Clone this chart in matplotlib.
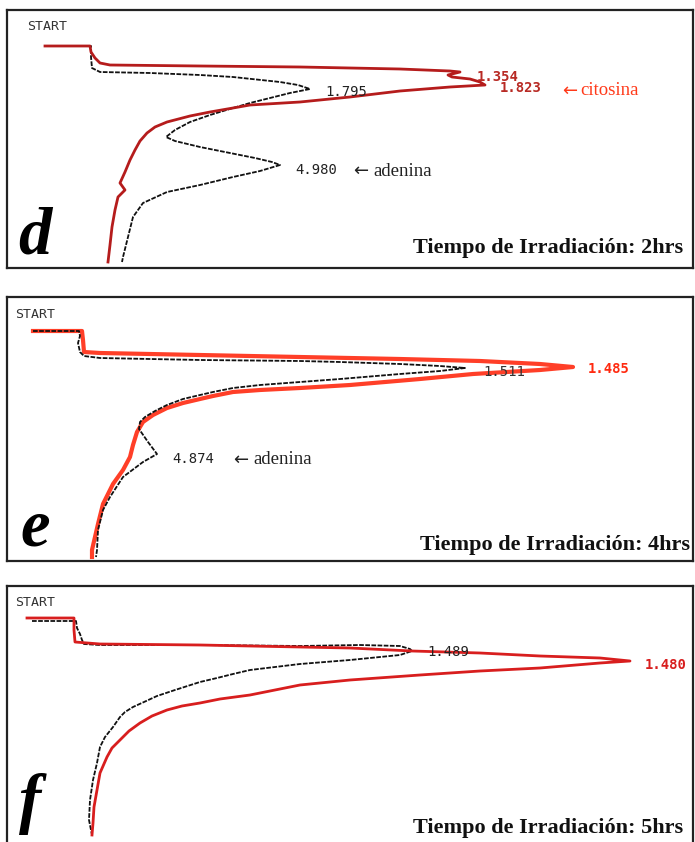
import matplotlib
matplotlib.use("Agg")
import matplotlib.pyplot as plt

# ---------------- data (response, time) ----------------
# Panel d : 2 hrs
d_black_resp = [38, 84, 84, 85, 93, 143, 193, 226, 273, 291, 303, 283, 263, 243, 226, 203, 183, 168, 159,
                168, 193, 223, 248, 265, 273, 253, 226, 193, 160, 136, 126, 121, 116, 115]
d_black_time = [36, 36, 47, 58, 62, 63, 65, 67, 72, 75, 79, 83, 88, 93, 98, 105, 112, 120, 127,
                131, 137, 143, 148, 152, 155, 161, 167, 175, 182, 193, 207, 227, 247, 252]
d_red_resp = [38, 83, 84, 88, 93, 103, 193, 293, 393, 443, 453, 441, 445, 463, 473, 478, 443, 393, 343,
              293, 243, 226, 203, 183, 160, 148, 140, 133, 128, 123, 118, 113, 118, 111, 108, 105, 103, 101]
d_red_time = [36, 36, 42, 48, 53, 55, 56, 57, 59, 61, 62, 65, 67, 69, 72, 75, 77, 81, 87,
              92, 95, 98, 102, 106, 112, 117, 123, 131, 140, 150, 162, 173, 180, 187, 200, 217, 235, 252]

# Panel e : 4 hrs
e_black_resp = [26, 72, 73, 71, 73, 77, 93, 193, 293, 333, 393, 433, 458, 433, 393, 333, 293, 253, 226,
                206, 193, 176, 160, 148, 138, 133, 132, 141, 150, 136, 116, 103, 96, 91, 90, 89]
e_black_time = [34, 34, 39, 46, 55, 59, 61, 63, 64, 65, 67, 69, 71, 74, 77, 82, 85, 88, 91,
                95, 98, 102, 108, 114, 120, 125, 132, 145, 157, 165, 180, 200, 213, 233, 253, 260]
e_red_resp = [26, 75, 76, 77, 93, 193, 293, 393, 473, 533, 566, 533, 466, 413, 343, 293, 253, 226, 206,
              193, 176, 160, 146, 136, 130, 126, 123, 116, 106, 96, 91, 88, 85, 85]
e_red_time = [34, 34, 43, 55, 56, 58, 60, 62, 64, 67, 70, 73, 77, 82, 88, 91, 93, 95, 99,
              102, 106, 111, 118, 125, 135, 148, 160, 173, 187, 207, 227, 240, 253, 260]

# Panel f : 5 hrs
f_black_resp = [25, 69, 70, 73, 75, 77, 93, 193, 293, 353, 393, 403, 405, 393, 363, 343, 293, 243, 226,
                210, 193, 168, 150, 137, 126, 118, 113, 106, 98, 93, 90, 86, 83, 82, 85]
f_black_time = [35, 35, 42, 48, 54, 58, 59, 59, 60, 59, 60, 63, 65, 69, 72, 74, 78, 84, 88,
                92, 96, 104, 110, 116, 121, 126, 131, 141, 151, 161, 177, 194, 214, 234, 249]
f_red_resp = [20, 67, 67, 68, 93, 193, 293, 343, 405, 473, 533, 593, 623, 593, 533, 473, 413, 343, 293,
              243, 213, 193, 175, 160, 145, 133, 122, 113, 105, 100, 93, 90, 87, 86, 85]
f_red_time = [32, 32, 44, 56, 58, 59, 61, 62, 65, 67, 70, 72, 75, 77, 82, 85, 89, 94, 99,
              109, 113, 117, 120, 124, 130, 137, 145, 154, 162, 171, 187, 204, 221, 237, 249]

panel_letters = ["d", "e", "f"]
panel_titles = ["Tiempo de Irradiación: 2hrs", "Tiempo de Irradiación: 4hrs", "Tiempo de Irradiación: 5hrs"]

# ---------------- figure ----------------
W, H = 695, 842
fig = plt.figure(figsize=(W / 100, H / 100), dpi=100)
fig.patch.set_facecolor("white")

# panel boxes in pixels: (left, top, right, bottom)
boxes = [(7, 10, 693, 268), (7, 297, 693, 561), (7, 586, 693, 842)]
axes = []
for (l, t, r, b) in boxes:
    ax = fig.add_axes([l / W, 1 - b / H, (r - l) / W, (b - t) / H])
    ax.set_xlim(0, r - l)
    ax.set_ylim(b - t, 0)
    ax.set_xticks([])
    ax.set_yticks([])
    for s in ax.spines.values():
        s.set_linewidth(1.6)
        s.set_color("#222222")
    axes.append(ax)
axes[2].spines["bottom"].set_visible(False)

mono = "DejaVu Sans Mono"
serif = "Liberation Serif"
black_style = dict(color="#111111", lw=1.3, linestyle=(0, (2.6, 0.8)), solid_joinstyle="round")

reds = ["#b51c1c", "#ff2a10", "#d81e1e"]
red_lw = [2.0, 3.0, 2.0]
traces = [
    (d_black_resp, d_black_time, d_red_resp, d_red_time),
    (e_black_resp, e_black_time, e_red_resp, e_red_time),
    (f_black_resp, f_black_time, f_red_resp, f_red_time),
]
letter_pos = [(11, 243), (13, 248), (12, 235)]
title_pos = [(676, 238), (683, 248), (676, 242)]
for i, ax in enumerate(axes):
    br, bt, rr, rt = traces[i]
    if i == 1:
        ax.plot(rr, rt, color=reds[i], lw=red_lw[i], alpha=0.9, zorder=2)
        ax.plot(br, bt, **black_style, zorder=3)
    else:
        ax.plot(br, bt, **black_style, zorder=2)
        ax.plot(rr, rt, color=reds[i], lw=red_lw[i], zorder=3)
    ax.text(20 if i == 0 else 8, 17, "START", family=mono, fontsize=9.5, color="#333333",
            va="center", ha="left")
    ax.text(letter_pos[i][0], letter_pos[i][1], panel_letters[i],
            family=serif, fontsize=48, weight="bold", style="italic", color="black",
            va="baseline", ha="left")
    ax.text(title_pos[i][0], title_pos[i][1], panel_titles[i],
            family=serif, fontsize=16, weight="bold", color="#111111", va="center", ha="right")


def arrow_label(ax, x_arrow, x_word, y, word, color):
    ax.text(x_arrow, y, "\u2190", family="DejaVu Sans", fontsize=13, color=color, va="center", ha="left")
    ax.text(x_word, y, word, family=serif, fontsize=13.5, color=color, va="center", ha="left")


# panel d labels
ax = axes[0]
ax.text(318, 82, "1.795", family=mono, fontsize=10, color="#222222", va="center", ha="left")
ax.text(470, 67, "1.354", family=mono, fontsize=10, color="#b82a24", weight="bold", va="center", ha="left")
ax.text(493, 78, "1.823", family=mono, fontsize=10, color="#b82a24", weight="bold", va="center", ha="left")
arrow_label(ax, 555, 573, 81, "citosina", "#ff3a1a")
ax.text(288, 160, "4.980", family=mono, fontsize=10, color="#222222", va="center", ha="left")
arrow_label(ax, 346, 366, 161, "adenina", "#222222")

# panel e labels
ax = axes[1]
ax.text(476, 75, "1.511", family=mono, fontsize=10, color="#333333", va="center", ha="left")
ax.text(581, 72, "1.485", family=mono, fontsize=10, color="#ff2a10", weight="bold", va="center", ha="left")
ax.text(165, 162, "4.874", family=mono, fontsize=10, color="#222222", va="center", ha="left")
arrow_label(ax, 226, 246, 163, "adenina", "#222222")

# panel f labels
ax = axes[2]
ax.text(420, 66, "1.489", family=mono, fontsize=10, color="#222222", va="center", ha="left")
ax.text(638, 79, "1.480", family=mono, fontsize=10, color="#d81e1e", weight="bold", va="center", ha="left",
        clip_on=True)

fig.savefig("out.png", dpi=100, facecolor="white")
